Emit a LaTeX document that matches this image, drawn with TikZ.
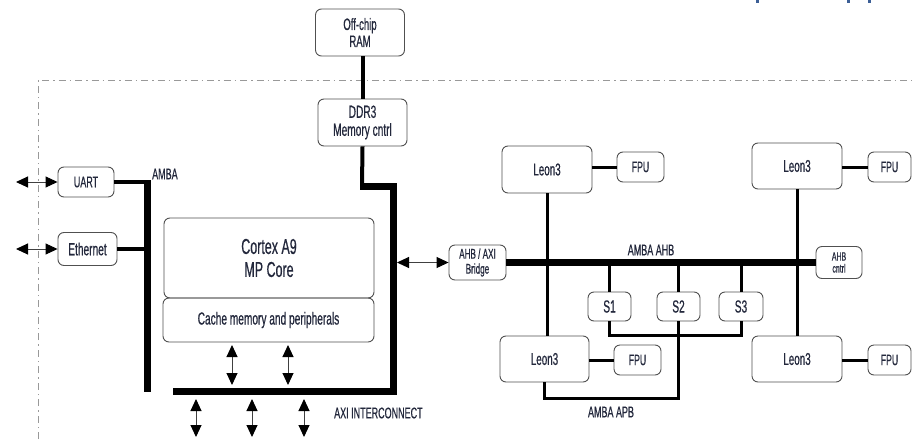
\documentclass[tikz,border=0pt]{standalone}
\usepackage{fontspec}
\setmainfont[FakeStretch=0.58,FakeBold=0.6]{Liberation Sans}
\usetikzlibrary{arrows.meta}
\definecolor{txt}{RGB}{35,40,60}
\definecolor{bord}{RGB}{80,80,80}
\definecolor{titleblue}{RGB}{60,95,150}
\newcommand{\fs}[1]{\fontsize{#1}{#1}\selectfont}
\begin{document}
\begin{tikzpicture}[x=1pt,y=-1pt,
 box/.style={draw=bord,line width=0.9pt,rounded corners=6pt,text=txt,align=center,inner sep=0pt},
 bus/.style={line width=7pt},
 mid/.style={line width=4pt},
 wire/.style={line width=3pt},
 dbl/.style={line width=1pt,draw=black!75,{Triangle[length=12pt,width=11pt,fill=black,color=black]}-{Triangle[length=12pt,width=11pt,fill=black,color=black]}},
 lbl/.style={text=txt,inner sep=0pt},
 border/.style={draw=gray!80,line width=0.9pt,dash pattern=on 7pt off 4pt on 1.5pt off 4pt}
]
\useasboundingbox (0,0) rectangle (912,439);

% title fragments at the top edge
\fill[titleblue] (756,0) rectangle (759,3);
\fill[titleblue] (847,0) rectangle (850,3);
\fill[titleblue] (868,0) rectangle (871,3);

% chip border
\draw[border] (38,439) -- (38,80) -- (912,80);

% boxes
\node[box,minimum width=89pt,minimum height=47pt,font=\fontsize{16.5}{17}\selectfont] (ram) at (360,32.5) {Off-chip\\RAM};
\node[box,minimum width=89pt,minimum height=47pt,font=\fontsize{17.5}{18}\selectfont] (ddr) at (362.5,122.5) {DDR3\\Memory cntrl};
\node[box,minimum width=56pt,minimum height=30pt,font=\fs{15.5}] (uart) at (86,182) {UART};
\node[box,minimum width=59pt,minimum height=33pt,font=\fs{17.5}] (eth) at (87.5,249) {Ethernet};
\node[box,minimum width=210pt,minimum height=80pt,font=\fontsize{21.5}{23}\selectfont] (cortex) at (269,258) {Cortex A9\\MP Core};
\node[box,minimum width=211pt,minimum height=44pt,font=\fs{17.5}] (cache) at (268.5,320) {Cache memory and peripherals};
\node[box,minimum width=57pt,minimum height=35pt,font=\fontsize{14}{15}\selectfont] (bridge) at (477.5,262.5) {AHB / AXI\\Bridge};
\node[box,minimum width=46pt,minimum height=32pt,font=\fontsize{12}{12}\selectfont] (ahbc) at (839,262.5) {AHB\\cntrl};

\node[box,minimum width=90pt,minimum height=47pt,font=\fs{17}] (leonA) at (547,169.5) {Leon3};
\node[box,minimum width=47pt,minimum height=30pt,font=\fs{15}] (fpuA) at (640.5,167) {FPU};
\node[box,minimum width=90pt,minimum height=46pt,font=\fs{17}] (leonB) at (797,166) {Leon3};
\node[box,minimum width=43pt,minimum height=30pt,font=\fs{15}] (fpuB) at (889.5,167) {FPU};
\node[box,minimum width=89pt,minimum height=46pt,font=\fs{17}] (leonC) at (544.5,359) {Leon3};
\node[box,minimum width=47pt,minimum height=30pt,font=\fs{15}] (fpuC) at (637.5,360) {FPU};
\node[box,minimum width=90pt,minimum height=46pt,font=\fs{17}] (leonD) at (797,359) {Leon3};
\node[box,minimum width=43pt,minimum height=30pt,font=\fs{15}] (fpuD) at (889.5,360) {FPU};

\node[box,minimum width=43pt,minimum height=29pt,font=\fs{17.5}] (s1) at (609.5,306.5) {S1};
\node[box,minimum width=43pt,minimum height=29pt,font=\fs{17.5}] (s2) at (678.5,306.5) {S2};
\node[box,minimum width=44pt,minimum height=29pt,font=\fs{17.5}] (s3) at (741,306.5) {S3};

% labels
\node[lbl,font=\fs{15.5},anchor=west] (amba) at (152,174) {AMBA};
\node[lbl,font=\fs{15.5},anchor=west] (axil) at (334,413) {AXI INTERCONNECT};
\node[lbl,font=\fs{15.5}] (ahbl) at (651,250) {AMBA AHB};
\node[lbl,font=\fs{15.5}] (apbl) at (611,412) {AMBA APB};

% coordinates
\coordinate (ddrturn) at (362,186);
\coordinate (axiR) at (393,391);
\coordinate (axiL) at (173,391);
\coordinate (ambaT) at (147,180);
\coordinate (ambaB) at (147,392);
\coordinate (uartL) at (16,182);
\coordinate (ethL) at (16,249);

% memory path
\draw[mid] (ram.south -| ddr.north) -- (ddr.north);
\draw[mid] (ddr.south) -- (ddrturn);
\draw[bus] (360,186) -- (393,186) -- (axiR) -- (axiL);

% AMBA bus on the left
\draw[bus] (ambaT) -- (ambaB);
\draw[mid] (uart.east) -- (150,182);
\draw[mid] (eth.east) -- (ambaT |- eth.east);

% external arrows
\draw[dbl] (uartL) -- (uart.west);
\draw[dbl] (ethL) -- (eth.west);

% cache <-> AXI
\draw[dbl] (232,345) -- (232,385);
\draw[dbl] (288,345) -- (288,385);
% below AXI
\draw[dbl] (196,399) -- (196,437);
\draw[dbl] (252,399) -- (252,437);
\draw[dbl] (304,399) -- (304,437);

% AXI <-> bridge
\draw[dbl] (397,262.5) -- (bridge.west);

% AHB bus
\draw[bus] (bridge.east) -- (ahbc.west);

% Leon3 verticals
\draw[wire] (leonA.south) -- (leonA.south |- leonC.north);
\draw[wire] (leonB.south) -- (leonB.south |- leonD.north);

% Leon3 - FPU
\draw[wire] (leonA.east |- fpuA.west) -- (fpuA.west);
\draw[wire] (leonB.east |- fpuB.west) -- (fpuB.west);
\draw[wire] (leonC.east |- fpuC.west) -- (fpuC.west);
\draw[wire] (leonD.east |- fpuD.west) -- (fpuD.west);

% slaves on AHB
\draw[wire] (s1.north) -- (s1.north |- ahbc.west);
\draw[wire] (s2.north) -- (s2.north |- ahbc.west);
\draw[wire] (s3.north) -- (s3.north |- ahbc.west);

% APB
\draw[wire] (s1.south) -- (s1.south |- 0,335) -| (s3.south);
\draw[wire] (s2.south) -- (s2.south |- 0,398) -| (leonC.south);
\end{tikzpicture}
\end{document}
